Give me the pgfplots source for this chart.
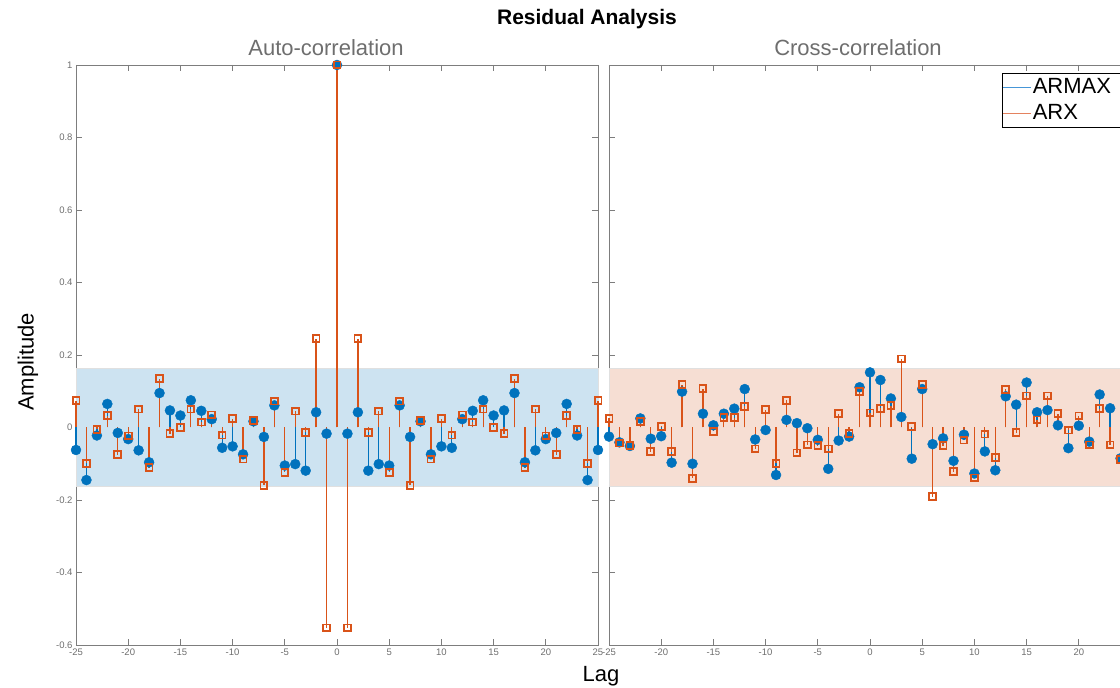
\documentclass[border=0pt]{standalone}
\usepackage{pgfplots}
\pgfplotsset{compat=1.18}
\usepackage{pgfplotstable}
\usepackage{fontspec}
\setmainfont{Liberation Sans}

\definecolor{mblue}{RGB}{0,114,189}
\definecolor{morange}{RGB}{217,83,25}
\definecolor{legblue}{RGB}{70,150,215}
\definecolor{legorange}{RGB}{228,130,95}
\definecolor{bandblue}{RGB}{205,227,241}
\definecolor{bandpeach}{RGB}{246,222,211}
\definecolor{axgray}{RGB}{125,125,125}
\definecolor{txtgray}{RGB}{110,110,110}

% auto-correlation of residuals
\pgfplotstableread{
lag armax arx
-25 -0.062 0.074
-24 -0.145 -0.099
-23 -0.022 -0.005
-22 0.065 0.033
-21 -0.015 -0.075
-20 -0.032 -0.023
-19 -0.063 0.051
-18 -0.096 -0.111
-17 0.095 0.135
-16 0.047 -0.017
-15 0.033 0.000
-14 0.075 0.051
-13 0.046 0.015
-12 0.023 0.035
-11 -0.056 -0.021
-10 -0.052 0.024
-9 -0.074 -0.087
-8 0.017 0.019
-7 -0.026 -0.160
-6 0.061 0.073
-5 -0.105 -0.124
-4 -0.101 0.045
-3 -0.119 -0.013
-2 0.042 0.245
-1 -0.017 -0.553
0 1.000 1.000
1 -0.017 -0.553
2 0.042 0.245
3 -0.119 -0.013
4 -0.101 0.045
5 -0.105 -0.124
6 0.061 0.073
7 -0.026 -0.160
8 0.017 0.019
9 -0.074 -0.087
10 -0.052 0.024
11 -0.056 -0.021
12 0.023 0.035
13 0.046 0.015
14 0.075 0.051
15 0.033 0.000
16 0.047 -0.017
17 0.095 0.135
18 -0.096 -0.111
19 -0.063 0.051
20 -0.032 -0.023
21 -0.015 -0.075
22 0.065 0.033
23 -0.022 -0.005
24 -0.145 -0.099
25 -0.062 0.074
}\autotab

% cross-correlation input/residuals
\pgfplotstableread{
lag armax arx
-25 -0.025 0.025
-24 -0.041 -0.043
-23 -0.051 -0.049
-22 0.025 0.017
-21 -0.031 -0.067
-20 -0.024 0.003
-19 -0.097 -0.067
-18 0.099 0.118
-17 -0.100 -0.140
-16 0.038 0.107
-15 0.006 -0.011
-14 0.038 0.028
-13 0.052 0.027
-12 0.106 0.058
-11 -0.033 -0.059
-10 -0.007 0.049
-9 -0.131 -0.099
-8 0.021 0.075
-7 0.012 -0.070
-6 -0.002 -0.048
-5 -0.034 -0.050
-4 -0.114 -0.059
-3 -0.036 0.038
-2 -0.025 -0.017
-1 0.111 0.100
0 0.152 0.040
1 0.131 0.053
2 0.080 0.060
3 0.029 0.189
4 -0.086 0.002
5 0.106 0.118
6 -0.046 -0.191
7 -0.030 -0.050
8 -0.092 -0.122
9 -0.020 -0.035
10 -0.127 -0.139
11 -0.066 -0.018
12 -0.118 -0.083
13 0.086 0.105
14 0.063 -0.014
15 0.124 0.087
16 0.042 0.021
17 0.048 0.087
18 0.006 0.038
19 -0.057 -0.007
20 0.005 0.032
21 -0.039 -0.048
22 0.091 0.052
23 0.053 -0.048
24 -0.085 -0.089
25 -0.030 0.020
}\crosstab

\pgfplotsset{
  resid/.style={
    scale only axis, width=522pt, height=580pt,
    xmin=-25, xmax=25, ymin=-0.6, ymax=1,
    xtick={-25,-20,-15,-10,-5,0,5,10,15,20,25},
    ytick={-0.6,-0.4,-0.2,0,0.2,0.4,0.6,0.8,1},
    axis line style={axgray, line width=0.7pt},
    tick style={axgray, line width=0.7pt},
    major tick length=6pt,
    tick label style={font=\fontsize{9.5}{10}\selectfont, text=txtgray},
    clip=false,
  },
  armaxstem/.style={ycomb, mblue, line width=1.3pt,
    mark=*, mark size=5pt, mark options={fill=mblue, draw=mblue, line width=0.4pt}},
  arxstem/.style={ycomb, morange, line width=1.3pt,
    mark=square, mark size=3.4pt, mark options={draw=morange, fill=none, line width=1.8pt}},
}

\begin{document}
\begin{tikzpicture}
\useasboundingbox (0pt,0pt) rectangle (1120pt,688pt);

% left panel: auto-correlation
\begin{axis}[resid, at={(76pt,43pt)}, anchor=south west,
  xticklabels={-25,-20,-15,-10,-5,0,5,10,15,20,25},
  yticklabels={-0.6,-0.4,-0.2,0,0.2,0.4,0.6,0.8,1}]
  \addplot[fill=bandblue, draw=black!12, line width=0.6pt, forget plot]
    coordinates {(-25,-0.163) (25,-0.163) (25,0.163) (-25,0.163)} \closedcycle;
  \addplot[armaxstem] table[x=lag, y=armax] {\autotab};
  \addplot[arxstem] table[x=lag, y=arx] {\autotab};
\end{axis}

% right panel: cross-correlation (cut at the right edge, as in the original)
\begin{axis}[resid, at={(609pt,43pt)}, anchor=south west,
  xticklabels={-25,-20,-15,-10,-5,0,5,10,15,20,{}},
  yticklabels={},
  legend image code/.code={\fill[#1] (0pt,-0.8pt) rectangle (28pt,0.8pt);},
  legend style={at={(rel axis cs:0.753,0.986)}, anchor=north west,
    fill=white, font=\fontsize{22}{26}\selectfont, inner xsep=1pt, inner ysep=1pt,
    nodes={inner xsep=1.5pt, inner ysep=2.5pt, text height=16.5pt, text depth=4.5pt},
    /tikz/every even column/.append style={text width=100pt, align=left}},
  legend cell align=left]
  \addplot[fill=bandpeach, draw=black!12, line width=0.6pt, forget plot]
    coordinates {(-25,-0.163) (25,-0.163) (25,0.163) (-25,0.163)} \closedcycle;
  \addplot[armaxstem, forget plot] table[x=lag, y=armax] {\crosstab};
  \addplot[arxstem, forget plot] table[x=lag, y=arx] {\crosstab};
  \addlegendimage{fill=legblue, draw=none}
  \addlegendentry{ARMAX}
  \addlegendimage{fill=legorange, draw=none}
  \addlegendentry{ARX}
\end{axis}

% titles and labels
\node[font=\fontsize{21}{24}\selectfont\bfseries] at (587pt,669pt) {Residual Analysis};
\node[font=\fontsize{22}{26}\selectfont, text=txtgray] at (326pt,640pt) {Auto-correlation};
\node[font=\fontsize{22}{26}\selectfont, text=txtgray] at (858pt,640pt) {Cross-correlation};
\node[font=\fontsize{22}{26}\selectfont, rotate=90] at (28pt,326pt) {Amplitude};
\node[font=\fontsize{22}{26}\selectfont] at (601pt,12pt) {Lag};
\end{tikzpicture}
\end{document}
